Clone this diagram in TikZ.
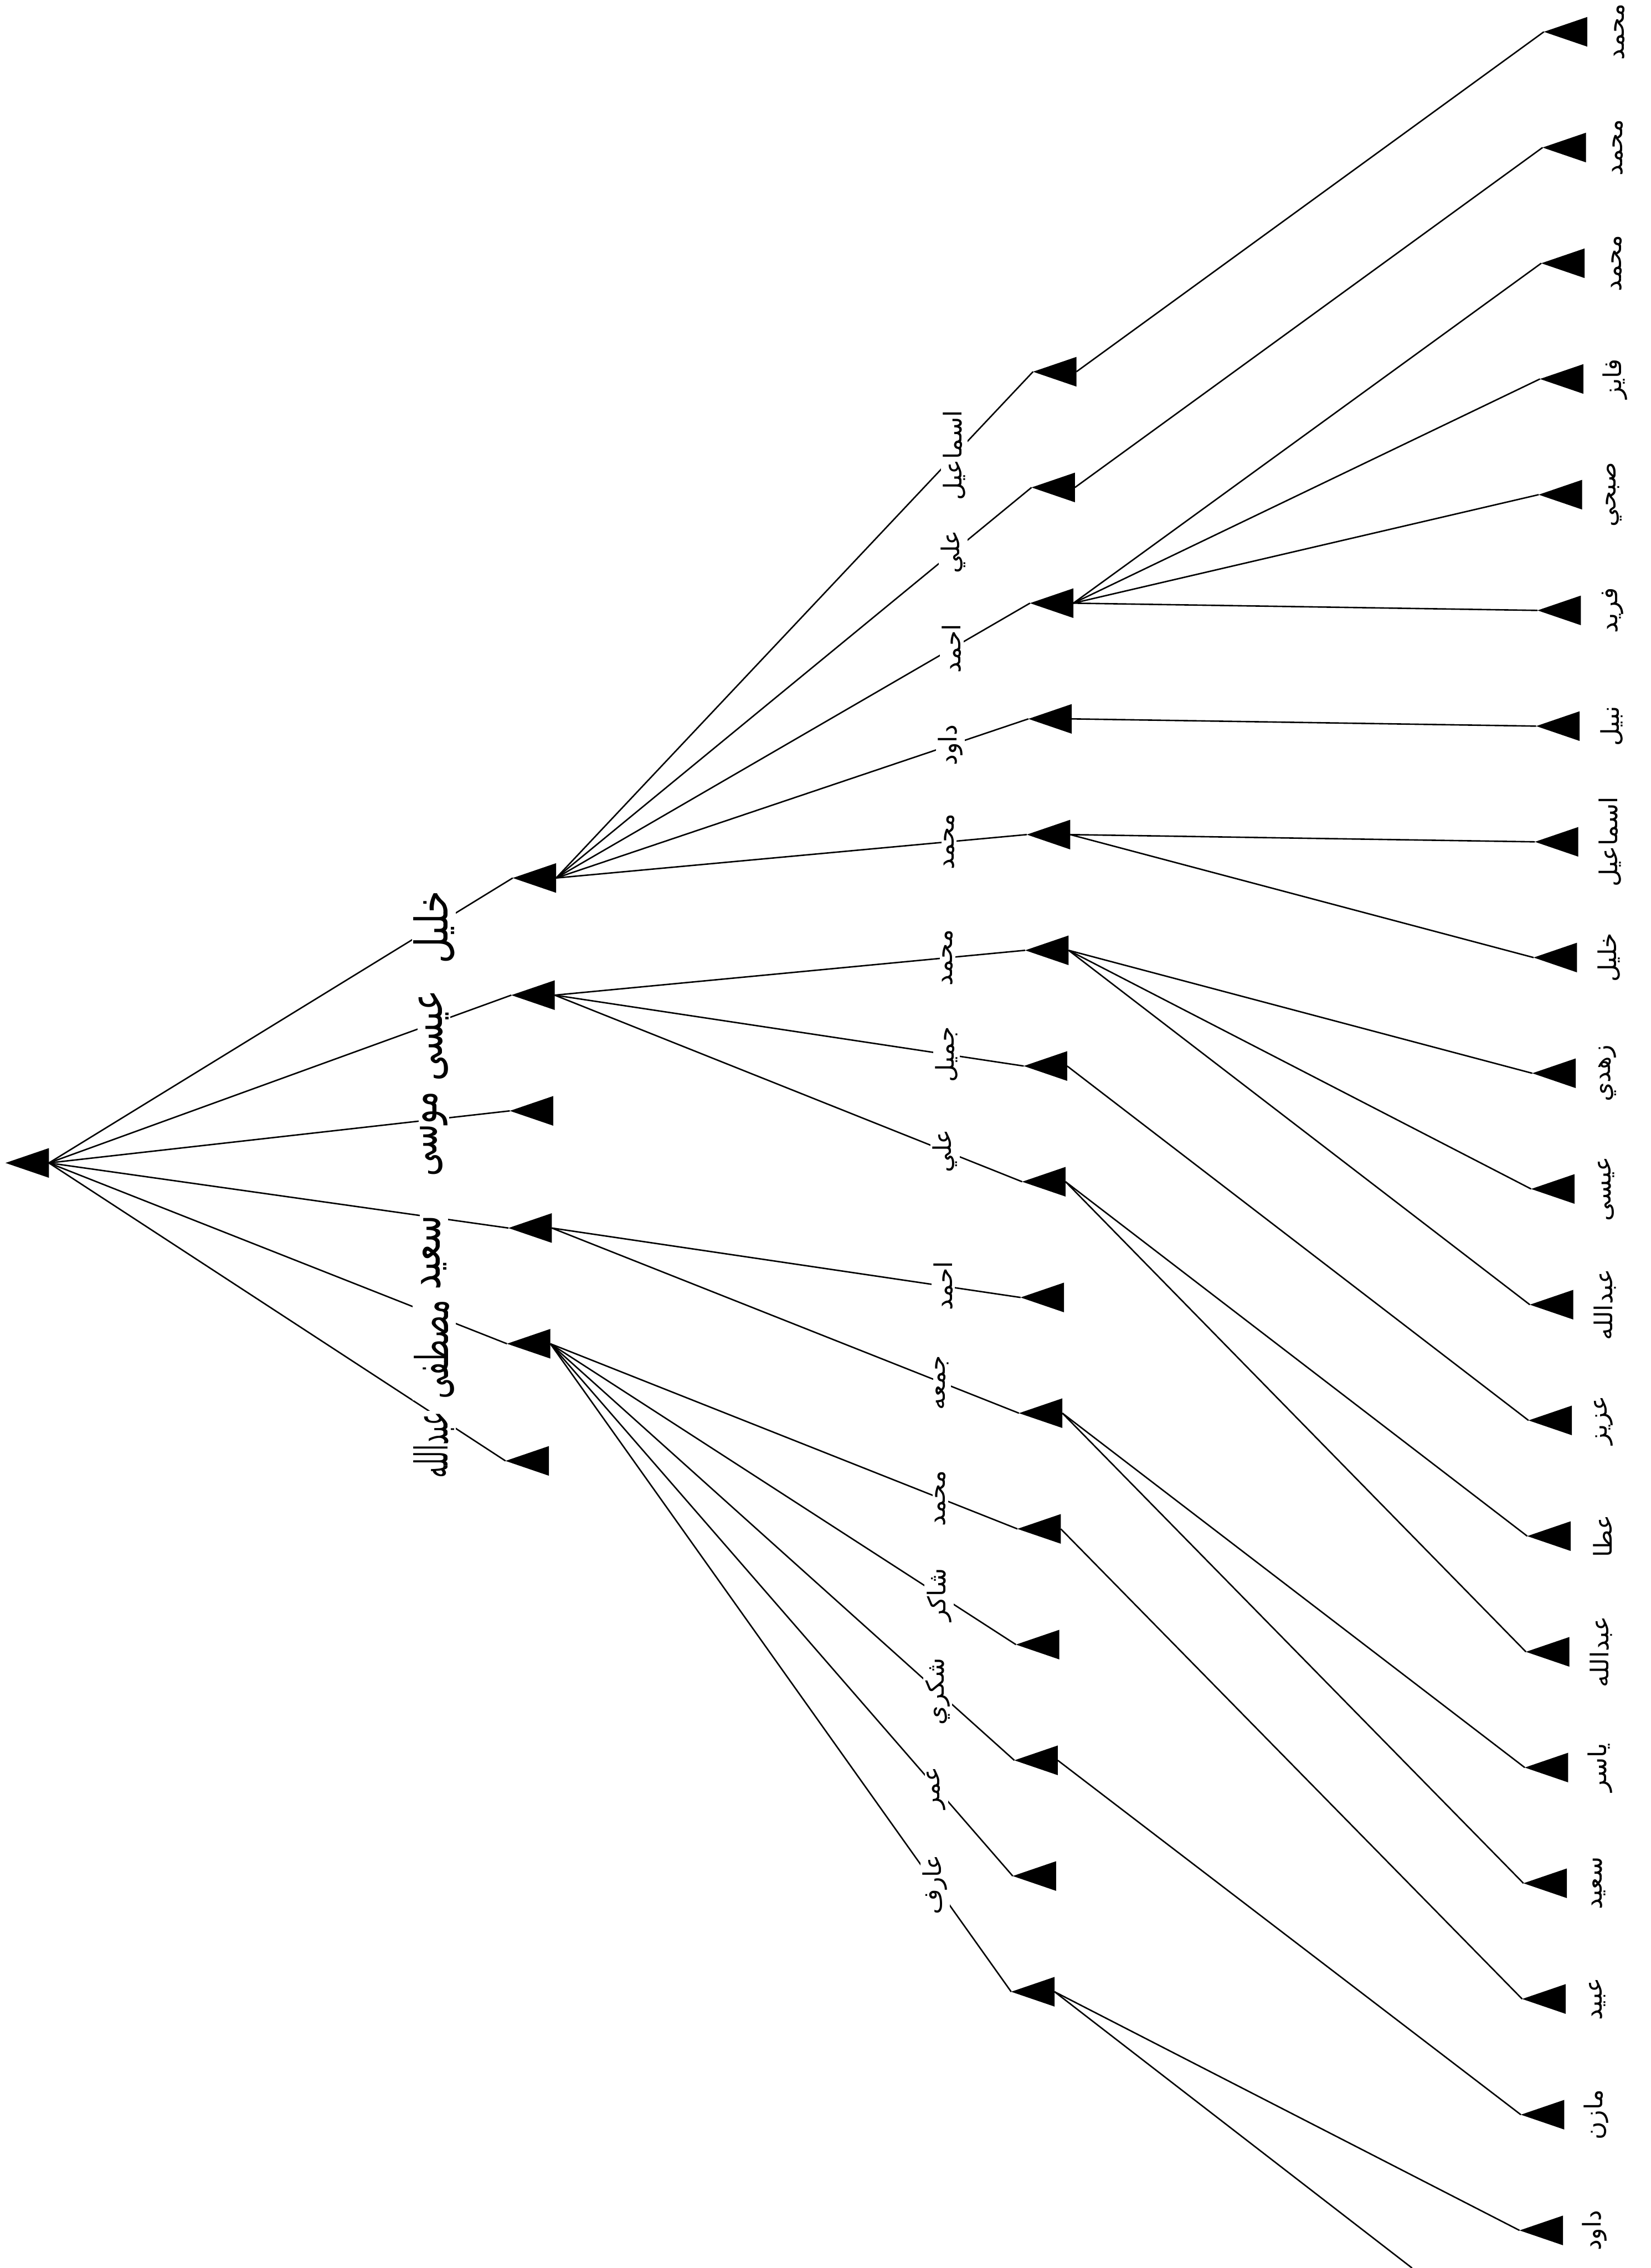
\documentclass[tikz,border=0pt]{standalone}
\usepackage{fontspec}
\usepackage{graphicx}
\usetikzlibrary{shapes.geometric}
\newfontfamily\arabicfont[Script=Arabic]{DejaVu Sans}
\TeXXeTstate=1
\tikzset{
  tri/.style={isosceles triangle, isosceles triangle stretches, shape border rotate=180,
    fill=black, draw=none, inner sep=0pt, outer sep=0pt,
    minimum width=20.5pt, minimum height=30pt, anchor=apex},
  conn/.style={draw=black, line width=1pt},
  lab/.style={pos=0.835, rotate=90, fill=white, inner sep=1.5pt,
    font=\arabicfont\fontsize{17}{19}\selectfont},
  biglab/.style={rotate=90, fill=white, inner sep=1pt,
    font=\arabicfont\fontsize{24}{26}\selectfont},
  leaflab/.style={rotate=90, inner sep=0pt,
    font=\arabicfont\fontsize{17}{19}\selectfont}
}
\newcommand{\ar}[1]{\beginR #1\endR}
\newcommand{\arsc}[2]{\scalebox{#1}[1.3]{\beginR #2\endR}}
\begin{document}
\begin{tikzpicture}[x=1pt,y=-1pt]
\useasboundingbox (0,0) rectangle (1141,1568);
% root
\node[tri] (r) at (3.8,804) {};
% level 1
\node[tri] (a0) at (354.4,607) {};
\node[tri] (a1) at (353.4,688) {};
\node[tri] (a2) at (352.4,768) {};
\node[tri] (a3) at (351.4,849) {};
\node[tri] (a4) at (350.4,929) {};
\node[tri] (a5) at (349.4,1010) {};
% level 2
\node[tri] (m0) at (714.0,257) {};
\node[tri] (m1) at (713.0,337) {};
\node[tri] (m2) at (711.9,417) {};
\node[tri] (m3) at (710.8,497) {};
\node[tri] (m4) at (709.7,577) {};
\node[tri] (m5) at (708.6,657) {};
\node[tri] (m6) at (707.6,737) {};
\node[tri] (m7) at (706.5,817) {};
\node[tri] (m8) at (705.4,897) {};
\node[tri] (m9) at (704.3,977) {};
\node[tri] (m10) at (703.2,1057) {};
\node[tri] (m11) at (702.2,1137) {};
\node[tri] (m12) at (701.1,1217) {};
\node[tri] (m13) at (700.0,1297) {};
\node[tri] (m14) at (698.9,1377) {};
% leaves
\node[tri] (f0) at (1067.1,22) {};
\node[tri] (f1) at (1066.2,102) {};
\node[tri] (f2) at (1065.3,182) {};
\node[tri] (f3) at (1064.4,262) {};
\node[tri] (f4) at (1063.5,342) {};
\node[tri] (f5) at (1062.7,422) {};
\node[tri] (f6) at (1061.8,502) {};
\node[tri] (f7) at (1060.9,582) {};
\node[tri] (f8) at (1060.0,662) {};
\node[tri] (f9) at (1059.1,742) {};
\node[tri] (f10) at (1058.3,822) {};
\node[tri] (f11) at (1057.4,902) {};
\node[tri] (f12) at (1056.5,982) {};
\node[tri] (f13) at (1055.6,1062) {};
\node[tri] (f14) at (1054.7,1142) {};
\node[tri] (f15) at (1053.9,1222) {};
\node[tri] (f16) at (1053.0,1302) {};
\node[tri] (f17) at (1052.1,1382) {};
\node[tri] (f18) at (1051.2,1462) {};
\node[tri] (f19) at (1050.3,1542) {};
\coordinate (offp) at (976,1568);
% root -> level 1
\draw[conn] (r.lower side) -- (a0.apex);
\draw[conn] (r.lower side) -- (a1.apex);
\draw[conn] (r.lower side) -- (a2.apex);
\draw[conn] (r.lower side) -- (a3.apex);
\draw[conn] (r.lower side) -- (a4.apex);
\draw[conn] (r.lower side) -- (a5.apex);
% level 1 labels
\node[biglab] (b0) at (300,641) {\arsc{1.05}{خليل}};
\node[biglab] (b1) at (300,716) {\arsc{1.0}{عيسى}};
\node[biglab] (b2) at (300,784) {\arsc{0.9}{موسى}};
\node[biglab] (b3) at (300,866) {\arsc{1.0}{سعيد}};
\node[biglab] (b4) at (300,933) {\arsc{0.8}{مصطفى}};
\node[biglab] (b5) at (300,999) {\arsc{0.66}{عبدالله}};
% level 1 -> level 2
\draw[conn] (a0.lower side) -- node[lab]{\ar{اسماعيل}} (m0.apex);
\draw[conn] (a0.lower side) -- node[lab]{\ar{علي}} (m1.apex);
\draw[conn] (a0.lower side) -- node[lab]{\ar{احمد}} (m2.apex);
\draw[conn] (a0.lower side) -- node[lab]{\ar{داود}} (m3.apex);
\draw[conn] (a0.lower side) -- node[lab]{\ar{محمد}} (m4.apex);
\draw[conn] (a1.lower side) -- node[lab]{\ar{محمد}} (m5.apex);
\draw[conn] (a1.lower side) -- node[lab]{\ar{جميل}} (m6.apex);
\draw[conn] (a1.lower side) -- node[lab]{\ar{علي}} (m7.apex);
\draw[conn] (a3.lower side) -- node[lab]{\ar{احمد}} (m8.apex);
\draw[conn] (a3.lower side) -- node[lab]{\ar{جمعه}} (m9.apex);
\draw[conn] (a4.lower side) -- node[lab]{\ar{محمد}} (m10.apex);
\draw[conn] (a4.lower side) -- node[lab]{\ar{شاكر}} (m11.apex);
\draw[conn] (a4.lower side) -- node[lab]{\ar{شكري}} (m12.apex);
\draw[conn] (a4.lower side) -- node[lab]{\ar{عمر}} (m13.apex);
\draw[conn] (a4.lower side) -- node[lab]{\ar{عارف}} (m14.apex);
% level 2 -> leaves
\draw[conn] (m0.lower side) -- (f0.apex);
\draw[conn] (m1.lower side) -- (f1.apex);
\draw[conn] (m2.lower side) -- (f2.apex);
\draw[conn] (m2.lower side) -- (f3.apex);
\draw[conn] (m2.lower side) -- (f4.apex);
\draw[conn] (m2.lower side) -- (f5.apex);
\draw[conn] (m3.lower side) -- (f6.apex);
\draw[conn] (m4.lower side) -- (f7.apex);
\draw[conn] (m4.lower side) -- (f8.apex);
\draw[conn] (m5.lower side) -- (f9.apex);
\draw[conn] (m5.lower side) -- (f10.apex);
\draw[conn] (m5.lower side) -- (f11.apex);
\draw[conn] (m6.lower side) -- (f12.apex);
\draw[conn] (m7.lower side) -- (f13.apex);
\draw[conn] (m7.lower side) -- (f14.apex);
\draw[conn] (m9.lower side) -- (f15.apex);
\draw[conn] (m9.lower side) -- (f16.apex);
\draw[conn] (m10.lower side) -- (f17.apex);
\draw[conn] (m12.lower side) -- (f18.apex);
\draw[conn] (m14.lower side) -- (f19.apex);
\draw[conn] (m14.lower side) -- (offp);
% leaf labels
\node[leaflab] (t0) at ([xshift=22pt]f0.lower side) {\ar{محمد}};
\node[leaflab] (t1) at ([xshift=22pt]f1.lower side) {\ar{محمد}};
\node[leaflab] (t2) at ([xshift=22pt]f2.lower side) {\ar{محمد}};
\node[leaflab] (t3) at ([xshift=22pt]f3.lower side) {\ar{فايز}};
\node[leaflab] (t4) at ([xshift=22pt]f4.lower side) {\ar{صبحي}};
\node[leaflab] (t5) at ([xshift=22pt]f5.lower side) {\ar{فريد}};
\node[leaflab] (t6) at ([xshift=22pt]f6.lower side) {\ar{نبيل}};
\node[leaflab] (t7) at ([xshift=22pt]f7.lower side) {\ar{اسماعيل}};
\node[leaflab] (t8) at ([xshift=22pt]f8.lower side) {\ar{خليل}};
\node[leaflab] (t9) at ([xshift=22pt]f9.lower side) {\ar{زهدي}};
\node[leaflab] (t10) at ([xshift=22pt]f10.lower side) {\ar{عيسى}};
\node[leaflab] (t11) at ([xshift=22pt]f11.lower side) {\ar{عبدالله}};
\node[leaflab] (t12) at ([xshift=22pt]f12.lower side) {\ar{عزيز}};
\node[leaflab] (t13) at ([xshift=22pt]f13.lower side) {\ar{عطا}};
\node[leaflab] (t14) at ([xshift=22pt]f14.lower side) {\ar{عبدالله}};
\node[leaflab] (t15) at ([xshift=22pt]f15.lower side) {\ar{ياسر}};
\node[leaflab] (t16) at ([xshift=22pt]f16.lower side) {\ar{سعيد}};
\node[leaflab] (t17) at ([xshift=22pt]f17.lower side) {\ar{عبيد}};
\node[leaflab] (t18) at ([xshift=22pt]f18.lower side) {\ar{مازن}};
\node[leaflab] (t19) at ([xshift=22pt]f19.lower side) {\ar{داود}};
\end{tikzpicture}
\end{document}
